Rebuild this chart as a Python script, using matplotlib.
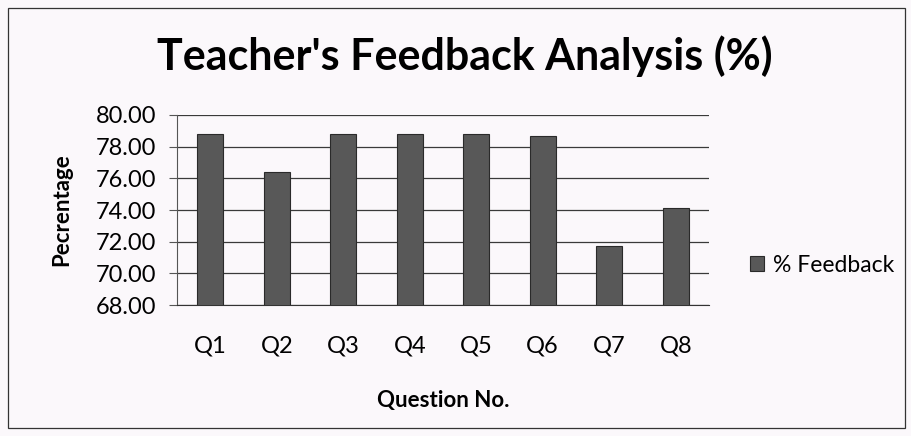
import matplotlib
matplotlib.use('Agg')
import matplotlib.pyplot as plt
from matplotlib.patches import Rectangle

questions = ['Q1', 'Q2', 'Q3', 'Q4', 'Q5', 'Q6', 'Q7', 'Q8']
feedback = [78.77, 76.43, 78.77, 78.77, 78.77, 78.65, 71.70, 74.10]
yticks = [68, 70, 72, 74, 76, 78, 80]

plt.rcParams['font.family'] = ['Lato', 'DejaVu Sans']
bg = '#fbf8fb'

fig = plt.figure(figsize=(9.12, 4.36), dpi=100, facecolor=bg)
# chart border
fig.patches.append(Rectangle((8 / 912, 8 / 436), 897 / 912, 420 / 436, transform=fig.transFigure,
                             fill=False, edgecolor='#333333', linewidth=0.9))

ax = fig.add_axes([177 / 912, 1 - 305 / 436, 532 / 912, 190 / 436])
ax.set_facecolor(bg)
ax.bar(range(len(questions)), feedback, width=0.39, bottom=0, color='#585858',
       edgecolor='#2a2a2a', linewidth=0.8, label='% Feedback', zorder=3)
ax.set_ylim(68, 80)
ax.set_xlim(-0.5, len(questions) - 0.5)
ax.set_yticks(yticks)
ax.set_yticklabels(['%.2f' % v for v in yticks])
ax.set_xticks(range(len(questions)))
ax.set_xticklabels(questions)
ax.grid(axis='y', color='#3a3a3a', linewidth=0.9, zorder=0)
for s in ['top', 'right']:
    ax.spines[s].set_visible(False)
ax.spines['left'].set_color('#555555')
ax.spines['bottom'].set_color('#333333')
ax.tick_params(axis='y', length=6, color='#555555', labelsize=17, pad=9)
ax.tick_params(axis='x', length=0, labelsize=17, pad=22)

ax.set_ylabel('Pecrentage', fontsize=16, fontweight='bold', labelpad=17)
ax.set_xlabel('Question No.', fontsize=16, fontweight='bold', labelpad=24)

fig.text(465 / 912, 1 - 56 / 436, "Teacher's Feedback Analysis (%)", ha='center', va='center',
         fontsize=31, fontweight='bold')

ax.legend(loc='center left', bbox_to_anchor=(1.077, 0.21), frameon=False, fontsize=16.5,
          borderpad=0, borderaxespad=0, handlelength=0.6, handleheight=0.6, handletextpad=0.4)

fig.savefig('out.png', dpi=100, facecolor=bg)
